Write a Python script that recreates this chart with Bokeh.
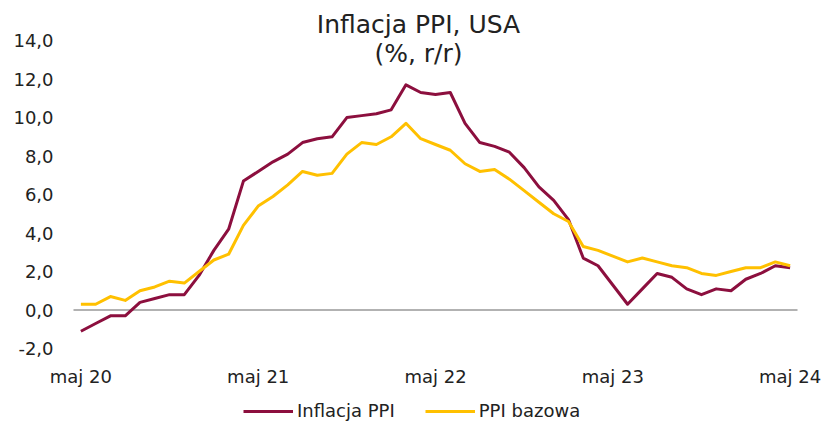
from bokeh.plotting import figure
from bokeh.models import Range1d, Label, Legend, LegendItem
from bokeh.core.properties import value
from bokeh.embed import file_html
from bokeh.resources import INLINE

# ---- data ----
polish_months = ["sty", "lut", "mar", "kwi", "maj", "cze", "lip", "sie", "wrz", "paź", "lis", "gru"]
months = [f"{polish_months[(4 + i) % 12]} {20 + (4 + i) // 12}" for i in range(49)]  # maj 20 .. maj 24

inflacja_ppi = [-1.1, -0.7, -0.3, -0.3, 0.4, 0.6, 0.8, 0.8, 1.8, 3.1, 4.2, 6.7,
                7.2, 7.7, 8.1, 8.7, 8.9, 9.0, 10.0, 10.1, 10.2, 10.4, 11.7, 11.3,
                11.2, 11.3, 9.7, 8.7, 8.5, 8.2, 7.4, 6.4, 5.7, 4.7, 2.7, 2.3,
                1.3, 0.3, 1.1, 1.9, 1.7, 1.1, 0.8, 1.1, 1.0, 1.6, 1.9, 2.3, 2.2]

ppi_bazowa = [0.3, 0.3, 0.7, 0.5, 1.0, 1.2, 1.5, 1.4, 2.0, 2.6, 2.9, 4.4,
              5.4, 5.9, 6.5, 7.2, 7.0, 7.1, 8.1, 8.7, 8.6, 9.0, 9.7, 8.9,
              8.6, 8.3, 7.6, 7.2, 7.3, 6.8, 6.2, 5.6, 5.0, 4.6, 3.3, 3.1,
              2.8, 2.5, 2.7, 2.5, 2.3, 2.2, 1.9, 1.8, 2.0, 2.2, 2.2, 2.5, 2.3]

series_names = ["Inflacja PPI", "PPI bazowa"]
y_ticks = [-2, 0, 2, 4, 6, 8, 10, 12, 14]
y_tick_labels = ["-2,0", "0,0", "2,0", "4,0", "6,0", "8,0", "10,0", "12,0", "14,0"]
x_tick_labels = ["maj 20", "maj 21", "maj 22", "maj 23", "maj 24"]
title_lines = ["Inflacja PPI, USA", "(%, r/r)"]

# ---- styles ----
MAROON = "#8C0F3E"
YELLOW = "#FFC000"
FONT = "DejaVu Sans"
TXT = "#222222"

x = list(range(len(months)))
x_ticks = [i for i, m in enumerate(months) if m in x_tick_labels]

# The frame covers the whole canvas so that title, tick labels and legend can all be
# drawn inside it (annotations are clipped to the frame); the ranges carry empty
# margins so that the plotting area sits where the reference has it.
X_LEFT, X_RIGHT = -5.44, 50.395
Y_BOTTOM, Y_TOP = -5.79, 16.08
XLABEL_Y = -3.45   # vertical placement (value units) of the month labels
YLABEL_X = -1.85   # horizontal placement (category units) of the right edge of value labels

p = figure(frame_width=825, frame_height=421, output_backend="svg", toolbar_location=None,
           x_range=Range1d(X_LEFT, X_RIGHT), y_range=Range1d(Y_BOTTOM, Y_TOP),
           x_axis_location=None, y_axis_location=None, min_border=0)
p.title.visible = False
p.outline_line_color = None
p.xgrid.visible = False
p.ygrid.visible = False
p.background_fill_color = "white"
p.border_fill_color = "white"

# zero line across the category span
p.segment(x0=[x[0] - 0.5], y0=[0], x1=[x[-1] + 0.5], y1=[0],
          line_color="#999999", line_width=1.5)

r1 = p.line(x, inflacja_ppi, line_color=MAROON, line_width=3, line_join="round")
r2 = p.line(x, ppi_bazowa, line_color=YELLOW, line_width=3, line_join="round")

# value labels (y axis)
p.text(x=[YLABEL_X] * len(y_ticks), y=y_ticks, text=y_tick_labels,
       text_font=value(FONT), text_font_size=value("18px"), text_color=TXT,
       text_align="right", text_baseline="middle")

# month labels (x axis)
p.text(x=x_ticks, y=[XLABEL_Y] * len(x_ticks), text=[months[t] for t in x_ticks],
       text_font=value(FONT), text_font_size=value("18px"), text_color=TXT,
       text_align="center", text_baseline="middle")

legend = Legend(items=[LegendItem(label=series_names[0], renderers=[r1]),
                       LegendItem(label=series_names[1], renderers=[r2])],
                orientation="horizontal", location=(243, 0),
                border_line_color=None, background_fill_alpha=0,
                padding=0, margin=0, glyph_width=50, glyph_height=20,
                label_standoff=4, spacing=30, label_height=20,
                label_text_font=FONT, label_text_font_size="18px", label_text_color=TXT)
p.add_layout(legend)

# title (two centered lines)
p.add_layout(Label(x=418, y=397, x_units="screen", y_units="screen", text=title_lines[0],
                   text_align="center", text_baseline="alphabetic",
                   text_font=FONT, text_font_size="25px", text_color=TXT))
p.add_layout(Label(x=418, y=368, x_units="screen", y_units="screen", text=title_lines[1],
                   text_align="center", text_baseline="alphabetic",
                   text_font=FONT, text_font_size="25px", text_color=TXT))

open("out.html", "w").write(file_html(p, INLINE))
